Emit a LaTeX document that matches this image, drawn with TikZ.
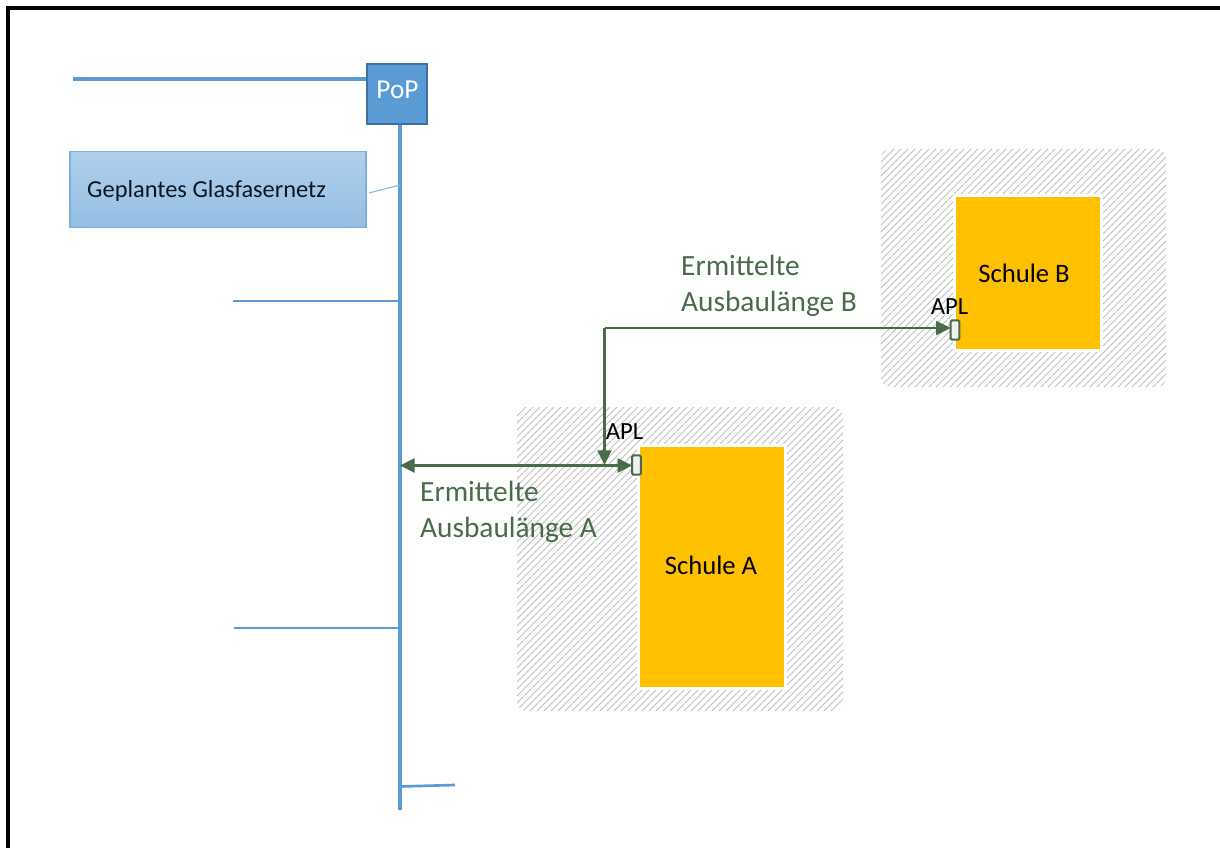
\documentclass[tikz,border=0pt]{standalone}
\usepackage{fontspec}
\setmainfont{Carlito}
\usetikzlibrary{arrows.meta}
\definecolor{netblue}{HTML}{5B9BD5}
\definecolor{popedge}{HTML}{41719C}
\definecolor{grn}{HTML}{4A6B4A}
\definecolor{orng}{HTML}{FFC000}
\tikzset{
  x=0.75pt,y=-0.75pt,
  netline/.style={draw=netblue,line width=2.6pt},
  thinnet/.style={draw=netblue,line width=2pt},
  school/.style={fill=orng,draw=white,line width=2.25pt,outer sep=0pt,inner sep=0pt,anchor=north west},
  lbl/.style={font=\fontsize{20}{24}\selectfont,text=black},
  grnlbl/.style={font=\fontsize{22}{26.5}\selectfont,text=grn,align=left,anchor=west},
  apltext/.style={font=\fontsize{18.5}{22}\selectfont,text=black},
  aplbox/.style={draw=grn,fill=black!6,line width=1.5pt,rounded corners=1pt,inner sep=0pt,outer sep=0pt,minimum width=6.5pt,minimum height=14.5pt},
  grntip/.tip={Triangle[length=11pt,width=10.5pt]},
  grnarrow/.style={draw=grn,line width=1.6pt,-grntip},
  hatchline/.style={draw=black!25,line width=0.7pt}
}
\newcommand{\hatchbox}[4]{%
  \begin{scope}
    \clip[rounded corners=7pt] (#1,#2) rectangle (#3,#4);
    \foreach \k in {0,7,...,1400}{
      \draw[hatchline] (#1-10+\k-400,#4+10) -- ++(500,-500);
    }
  \end{scope}}
\begin{document}
\begin{tikzpicture}
\useasboundingbox (0,0) rectangle (1220,848);
\fill[white] (0,0) rectangle (1220,848);
\draw[black,line width=2.3pt] (8,848) -- (8,8) -- (1220,8);
\hatchbox{517}{407}{843}{711}
\hatchbox{881}{149}{1166}{387}
\node[school,minimum width=110.5pt,minimum height=182.5pt] (a) at (638.5,445.5) {};
\node[lbl] (at) at (711,565) {Schule A};
\node[school,minimum width=110.5pt,minimum height=116.5pt] (b) at (954.5,195.5) {};
\node[lbl] (bt) at (1024,273) {Schule B};
\coordinate (w0) at (73,79);
\coordinate (popw) at (368,79);
\draw[netline] (w0) -- (popw);
\coordinate (ptop) at (400,124);
\coordinate (pbot) at (400,810);
\draw[draw=netblue,line width=3pt] (ptop) -- (pbot);
\node[fill=netblue,draw=popedge,line width=2pt,outer sep=0pt,minimum width=45pt,minimum height=45pt,inner sep=0pt,anchor=north west] (pop) at (367,64) {};
\node[text=white,font=\fontsize{20.5}{24}\selectfont] (poptxt) at (397.5,90) {PoP};
\coordinate (t1) at (233,301); \coordinate (t1e) at (400,301);
\coordinate (t2) at (234,628); \coordinate (t2e) at (400,628);
\coordinate (t3) at (455,785); \coordinate (t3e) at (400,786.5);
\draw[thinnet] (t1) -- (t1e);
\draw[thinnet] (t2) -- (t2e);
\draw[thinnet] (t3e) -- (t3);
\node[draw=netblue!80,line width=0.8pt,top color=netblue!48,bottom color=netblue!65,outer sep=0pt,minimum width=222pt,minimum height=57pt,inner sep=0pt,anchor=north west] (legend) at (70,151.5) {};
\node[text=black!85!netblue,font=\fontsize{18.3}{22}\selectfont,anchor=west] (legtxt) at (82.5,190.5) {Geplantes Glasfasernetz};
\coordinate (lega) at (369,193); \coordinate (legb) at (400,185);
\draw[draw=netblue!75,line width=0.8pt] (lega) -- (legb);
\node[aplbox] (apla) at (636.5,465) {};
\node[aplbox] (aplb) at (955,330) {};
\coordinate (junc) at (400,465.5);
\coordinate (cor) at (604.5,328);
\coordinate (drop) at (604.5,465);
\draw[draw=grn,line width=2.2pt,grntip-grntip] (junc) -- (apla.west |- junc);
\draw[grnarrow] (cor) -- (drop);
\draw[grnarrow] (cor) -- (aplb.west |- cor);
\node[apltext] (apltxa) at (624.5,432) {APL};
\node[apltext] (apltxb) at (949.5,307) {APL};
\node[grnlbl] (la) at (415.5,512) {Ermittelte\\Ausbaulänge A};
\node[grnlbl] (lb) at (676.5,286) {Ermittelte\\Ausbaulänge B};
\end{tikzpicture}
\end{document}
